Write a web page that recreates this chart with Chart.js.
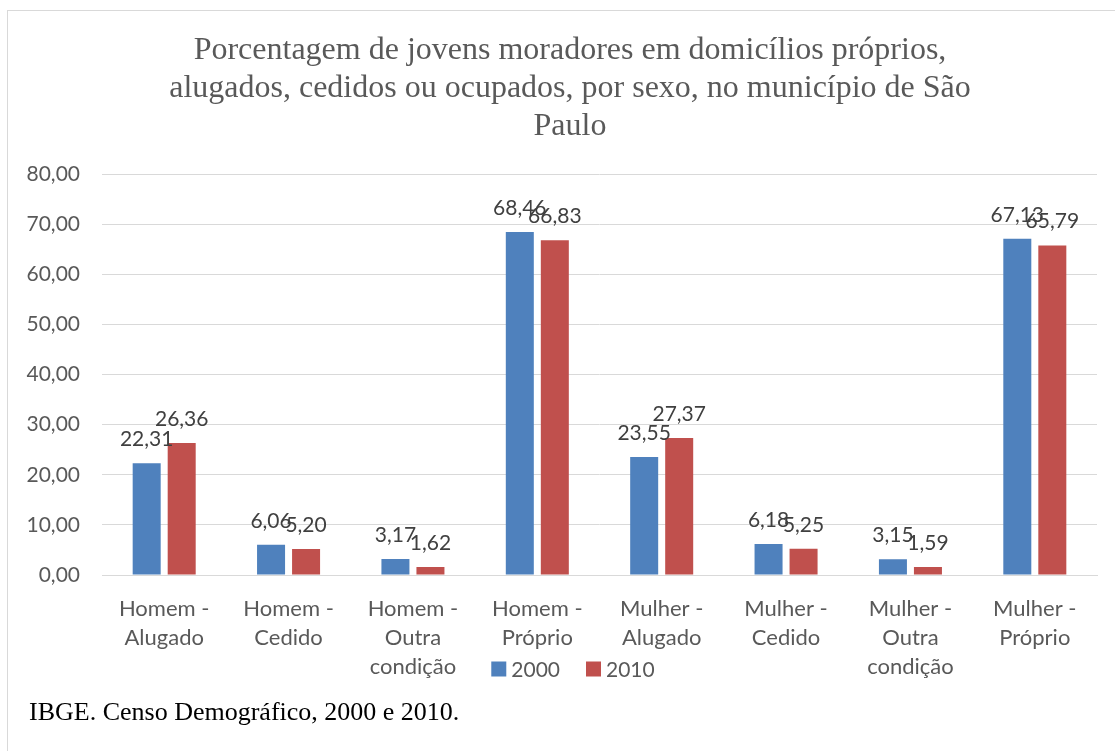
<!DOCTYPE html>
<html>
<head>
<meta charset="utf-8">
<script src="https://cdn.jsdelivr.net/npm/chart.js@4.4.0/dist/chart.umd.min.js"></script>
<style>
  html, body { margin: 0; padding: 0; background: #fff; overflow: hidden; width: 1115px; height: 751px; }
  #frame { position: absolute; left: 7px; top: 10px; width: 1120px; height: 760px; border: 1px solid #d9d9d9; box-sizing: border-box; }
  #wrap { position: absolute; left: 0; top: 0; width: 1140px; height: 751px; }
  #note { position: absolute; left: 29px; top: 697px; font-family: 'Liberation Serif', 'Times New Roman', serif; font-size: 26px; color: #000; white-space: nowrap; }
</style>
</head>
<body>
<div id="frame"></div>
<div id="wrap"><canvas id="c"></canvas></div>
<div id="note">IBGE. Censo Demográfico, 2000 e 2010.</div>
<script>
const titleLines = [
  "Porcentagem de jovens moradores em domicílios próprios,",
  "alugados, cedidos ou ocupados, por sexo, no município de São",
  "Paulo"
];
const categories = [
  ["Homem -", "Alugado"],
  ["Homem -", "Cedido"],
  ["Homem -", "Outra", "condição"],
  ["Homem -", "Próprio"],
  ["Mulher -", "Alugado"],
  ["Mulher -", "Cedido"],
  ["Mulher -", "Outra", "condição"],
  ["Mulher -", "Próprio"]
];
const seriesNames = ["2000", "2010"];
const values2000 = [22.31, 6.06, 3.17, 68.46, 23.55, 6.18, 3.15, 67.13];
const values2010 = [26.36, 5.20, 1.62, 66.83, 27.37, 5.25, 1.59, 65.79];
const yTicks = [0, 10, 20, 30, 40, 50, 60, 70, 80];

const fmt = v => v.toFixed(2).replace('.', ',');
const sansFont = "Lato, 'Open Sans', sans-serif";

const dataLabels = {
  id: 'dataLabels',
  afterDatasetsDraw(chart) {
    const ctx = chart.ctx;
    ctx.save();
    ctx.font = "21px " + sansFont;
    ctx.fillStyle = '#404040';
    ctx.textAlign = 'center';
    ctx.textBaseline = 'alphabetic';
    chart.data.datasets.forEach((ds, i) => {
      const meta = chart.getDatasetMeta(i);
      meta.data.forEach((el, j) => {
        ctx.fillText(fmt(ds.data[j]), el.x, el.y - 17);
      });
    });
    ctx.restore();
  }
};

const bottomLegend = {
  id: 'bottomLegend',
  afterDraw(chart) {
    const ctx = chart.ctx;
    const box = 15, gap = 5, itemGap = 26;
    ctx.save();
    ctx.font = "21px " + sansFont;
    const items = chart.data.datasets.map(ds => ({ text: ds.label, color: ds.backgroundColor, w: ctx.measureText(ds.label).width }));
    const total = items.reduce((s, it) => s + box + gap + it.w, 0) + itemGap * (items.length - 1);
    let x = chart.width / 2 + 3 - total / 2;
    const cy = chart.scales.x.top + 94;
    ctx.textBaseline = 'middle';
    ctx.textAlign = 'left';
    items.forEach(it => {
      ctx.fillStyle = it.color;
      ctx.fillRect(x, cy - box / 2, box, box);
      x += box + gap;
      ctx.fillStyle = '#595959';
      ctx.fillText(it.text, x, cy + 1);
      x += it.w + itemGap;
    });
    ctx.restore();
  }
};

new Chart(document.getElementById('c'), {
  type: 'bar',
  data: {
    labels: categories,
    datasets: [
      { label: seriesNames[0], data: values2000, backgroundColor: '#4F81BD', borderWidth: 0 },
      { label: seriesNames[1], data: values2010, backgroundColor: '#C0504D', borderWidth: 0 }
    ]
  },
  options: {
    responsive: true,
    maintainAspectRatio: false,
    animation: false,
    datasets: { bar: { categoryPercentage: 0.563, barPercentage: 0.8 } },
    layout: { padding: { left: 0, right: 0, top: 0, bottom: 61 } },
    plugins: {
      title: {
        display: true,
        text: titleLines,
        color: '#595959',
        font: { family: "'Liberation Serif', 'Times New Roman', serif", size: 32, weight: 'normal', lineHeight: 1.2 },
        padding: { top: 31, bottom: 28 }
      },
      legend: { display: false },
      tooltip: { enabled: false }
    },
    scales: {
      x: {
        grid: { display: false, drawTicks: false },
        border: { color: '#d9d9d9', width: 1 },
        ticks: {
          color: '#595959',
          font: { family: sansFont, size: 22, lineHeight: 1.3 },
          padding: 20,
          maxRotation: 0,
          autoSkip: false
        },
        afterFit(scale) { scale.height = 115; }
      },
      y: {
        min: 0,
        max: 80,
        afterBuildTicks(scale) { scale.ticks = yTicks.map(v => ({ value: v })); },
        grid: { color: '#d9d9d9', lineWidth: 1, drawTicks: false },
        border: { display: false },
        ticks: {
          color: '#595959',
          font: { family: sansFont, size: 21 },
          padding: 22,
          callback: v => fmt(v)
        },
        afterFit(scale) { scale.width = 102; }
      },
      yRight: {
        type: 'linear',
        position: 'right',
        grid: { display: false, drawTicks: false },
        border: { display: false },
        ticks: { display: false },
        afterFit(scale) { scale.width = 43; }
      }
    }
  },
  plugins: [dataLabels, bottomLegend]
});
</script>
</body>
</html>
